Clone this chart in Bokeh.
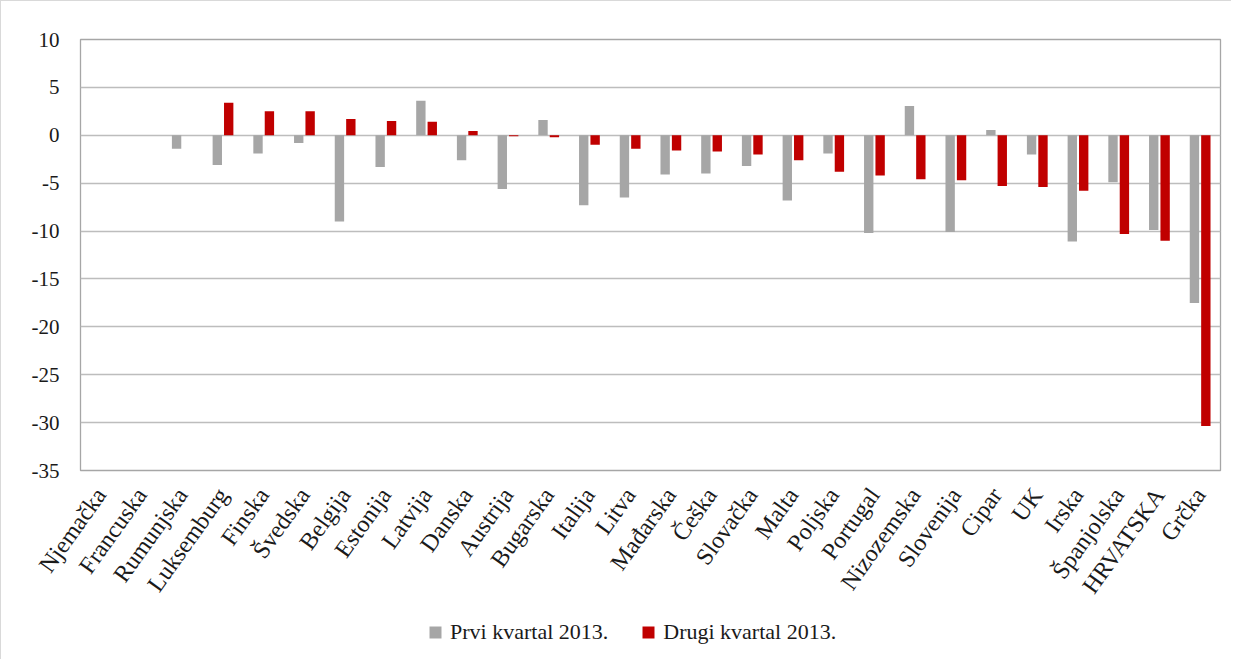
from bokeh.plotting import figure
from bokeh.layouts import column
from bokeh.models import (ColumnDataSource, FactorRange, Range1d, FixedTicker, Legend,
                          LegendItem, PrintfTickFormatter)
from bokeh.transform import dodge
from bokeh.embed import file_html
from bokeh.resources import INLINE

countries = ["Njemačka", "Francuska", "Rumunjska", "Luksemburg", "Finska", "Švedska",
             "Belgija", "Estonija", "Latvija", "Danska", "Austrija", "Bugarska",
             "Italija", "Litva", "Mađarska", "Češka", "Slovačka", "Malta", "Poljska",
             "Portugal", "Nizozemska", "Slovenija", "Cipar", "UK", "Irska",
             "Španjolska", "HRVATSKA", "Grčka"]
q1_2013 = [0.0, 0.0, -1.4, -3.1, -1.9, -0.8, -9.0, -3.3, 3.6, -2.6, -5.6, 1.6,
           -7.3, -6.5, -4.1, -4.0, -3.2, -6.8, -1.9, -10.2, 3.05, -10.1, 0.55, -2.0,
           -11.1, -4.9, -9.9, -17.5]
q2_2013 = [0.0, 0.0, 0.0, 3.4, 2.5, 2.5, 1.7, 1.5, 1.4, 0.45, -0.1, -0.2,
           -1.0, -1.4, -1.6, -1.7, -2.0, -2.6, -3.8, -4.2, -4.6, -4.7, -5.3, -5.4,
           -5.8, -10.3, -11.0, -30.35]
series_names = ["Prvi kvartal 2013.", "Drugi kvartal 2013."]
y_ticks = [-35, -30, -25, -20, -15, -10, -5, 0, 5, 10]
colors = ["#A6A6A6", "#C00000"]

FONT = "Liberation Serif"
TXT = "#1a1a1a"
W = 1230

src = ColumnDataSource(data=dict(country=countries, q1=q1_2013, q2=q2_2013))

p = figure(x_range=FactorRange(*countries, range_padding=0),
           y_range=Range1d(-35, 10),
           width=W, height=610, output_backend="svg", toolbar_location=None,
           min_border_left=79, min_border_right=11, min_border_top=38, min_border_bottom=141)

p.vbar(x=dodge("country", -0.14, range=p.x_range), top="q1", bottom=0, width=0.23,
       source=src, fill_color=colors[0], line_color=None)
p.vbar(x=dodge("country", 0.14, range=p.x_range), top="q2", bottom=0, width=0.23,
       source=src, fill_color=colors[1], line_color=None)

p.outline_line_color = "#a6a6a6"
p.outline_line_width = 1.3

p.xgrid.grid_line_color = None
p.ygrid.grid_line_color = "#bdbdbd"
p.ygrid.grid_line_width = 1.3
p.yaxis.ticker = FixedTicker(ticks=y_ticks)
p.yaxis.formatter = PrintfTickFormatter(format="%d")

for ax in (p.xaxis[0], p.yaxis[0]):
    ax.axis_line_color = None
    ax.major_tick_line_color = None
    ax.minor_tick_line_color = None
    ax.major_tick_in = 0
    ax.major_tick_out = 0
    ax.major_label_text_font = FONT
    ax.major_label_text_color = TXT

p.yaxis.major_label_text_font_size = "21px"
p.yaxis.major_label_standoff = 21
p.xaxis.major_label_text_font_size = "24px"
p.xaxis.major_label_orientation = 0.95
p.xaxis.major_label_standoff = 20

# legend strip below the chart (same borders, so its frame matches the chart frame)
p2 = figure(x_range=Range1d(0, 1), y_range=Range1d(0, 1), width=W, height=48,
            output_backend="svg", toolbar_location=None,
            min_border_left=79, min_border_right=11, min_border_top=0, min_border_bottom=0)
p2.axis.visible = False
p2.grid.visible = False
p2.outline_line_color = None
offscreen = ColumnDataSource(data=dict(x=[5], y=[5]))
lr1 = p2.scatter(x="x", y="y", marker="square", size=12, source=offscreen,
                 fill_color=colors[0], line_color=None)
lr2 = p2.scatter(x="x", y="y", marker="square", size=12, source=offscreen,
                 fill_color=colors[1], line_color=None)

legend = Legend(items=[LegendItem(label=series_names[0], renderers=[lr1]),
                       LegendItem(label=series_names[1], renderers=[lr2])],
                location=(340, 12), orientation="horizontal",
                label_text_font=FONT, label_text_font_size="22px", label_text_color=TXT,
                glyph_width=30, glyph_height=30, label_height=30, label_standoff=0, spacing=25,
                padding=0, margin=0, border_line_color=None, background_fill_alpha=0)
p2.add_layout(legend, "center")

layout = column(p, p2, spacing=0)
layout.styles = {"border-left": "1px solid #d9d9d9", "border-top": "1px solid #d9d9d9"}

open("out.html", "w").write(file_html(layout, INLINE))
